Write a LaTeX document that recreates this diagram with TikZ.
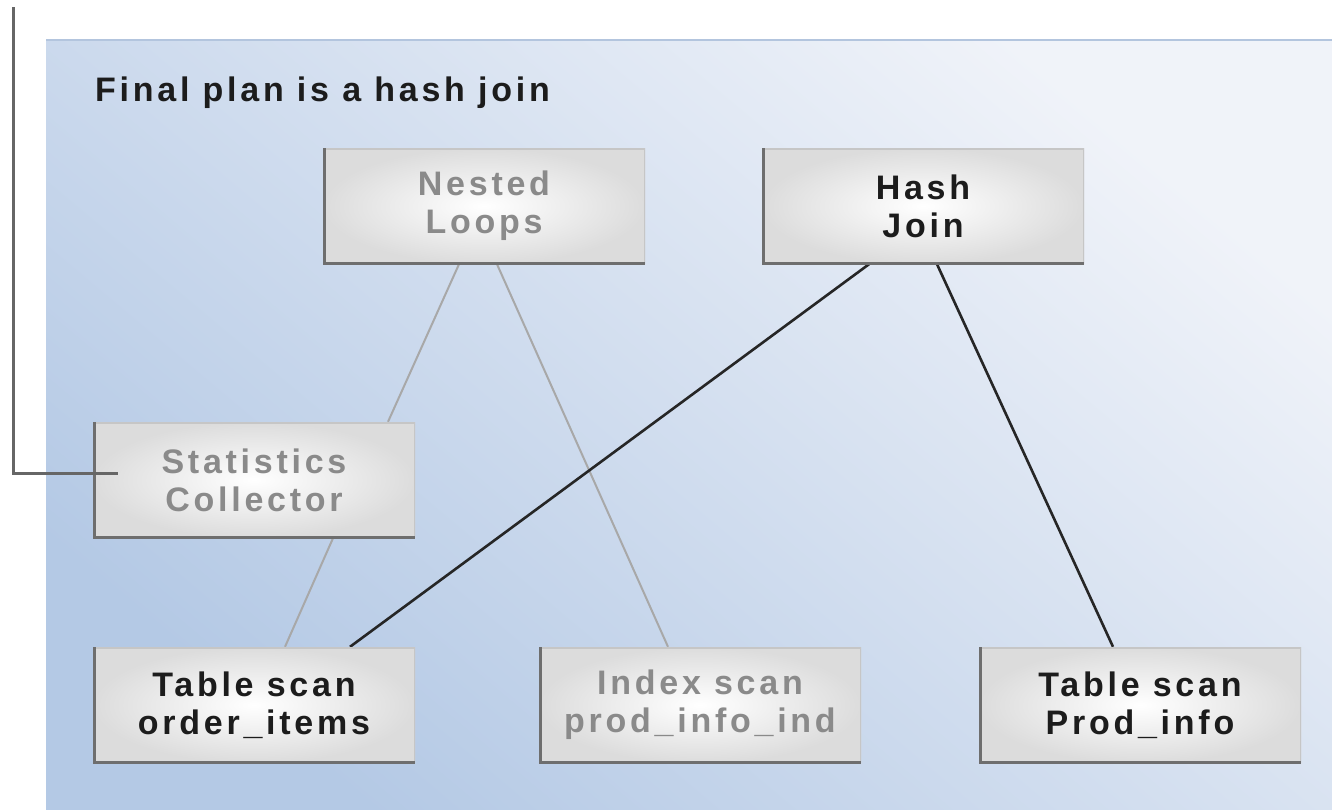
\documentclass[tikz,border=0pt]{standalone}
\usepackage{fontspec}
\usetikzlibrary{backgrounds,calc}
\newfontfamily\diagfont{Liberation Sans}[LetterSpace=11]

\definecolor{bgdark}{HTML}{B4C9E5}
\definecolor{bglight}{HTML}{F0F3F9}
\definecolor{bgedge}{HTML}{B3C5DE}
\definecolor{boxouter}{HTML}{DCDCDC}
\definecolor{bevdark}{HTML}{6E6E6E}
\definecolor{bevlight}{HTML}{C6C6C6}
\definecolor{txtdark}{HTML}{1C1C1C}
\definecolor{txtgray}{HTML}{8A8A8A}
\definecolor{lnkgray}{HTML}{A8A8A8}
\definecolor{lnkdark}{HTML}{262626}
\definecolor{leader}{HTML}{666666}

\tikzset{
  opbox/.style={
    rectangle, minimum width=322pt, minimum height=116pt, inner sep=0pt,
    inner color=white, outer color=boxouter, align=center,
    font={\diagfont\bfseries\fontsize{34}{38}\selectfont},
    path picture={
      \draw[line width=3pt, bevlight]
        (path picture bounding box.south east) -- (path picture bounding box.north east)
        -- (path picture bounding box.north west);
      \draw[line width=5pt, bevdark]
        (path picture bounding box.north west) -- (path picture bounding box.south west)
        -- (path picture bounding box.south east);
    }},
  active/.style={opbox, text=txtdark},
  inactive/.style={opbox, text=txtgray},
  faint/.style={draw=lnkgray, line width=2pt},
  chosen/.style={draw=lnkdark, line width=2.6pt},
}

\begin{document}
\begin{tikzpicture}[x=1pt, y=-1pt]
  \useasboundingbox (0,0) rectangle (1332,809);

  % plan operators
  \node[inactive] (nested) at (484,206) {Nested\\Loops};
  \node[active]   (hash)   at (923,206) {Hash\\Join};
  \node[inactive] (stats)  at (254,480) {Statistics\\Collector};
  \node[active]   (scanoi) at (254,705) {Table scan\\order\_items};
  \node[inactive] (iscan)  at (700,705) {Index scan\\prod\_info\_ind};
  \node[active]   (scanpi) at (1140,705) {Table scan\\Prod\_info};

  % heading
  \node[anchor=base west, inner sep=0pt, text=txtdark,
        font={\diagfont\bfseries\fontsize{34}{38}\selectfont}]
        (title) at (95,101) {Final plan is a hash join};

  \begin{scope}[on background layer]
    % panel with its gradient
    \shade[bottom color=bgdark, top color=bglight, shading angle=-40]
      (46,40) rectangle (1332,809);
    \draw[bgedge, line width=2pt] (46,40) -- (1332,40);

    % plan edges
    \draw[faint]  ([xshift=-25pt]nested.south) -- ([xshift=134pt]stats.north);
    \draw[faint]  ([xshift=13pt]nested.south)  -- ([xshift=-32pt]iscan.north);
    \draw[faint]  ([xshift=79pt]stats.south)   -- ([xshift=31pt]scanoi.north);
    \draw[chosen] ([xshift=-54pt]hash.south)   -- ([xshift=96pt]scanoi.north);
    \draw[chosen] ([xshift=14pt]hash.south)    -- ([xshift=-27pt]scanpi.north);
  \end{scope}

  % leader into the statistics collector
  \coordinate (leadtop) at (13,7);
  \coordinate (leadend) at ($(stats.west)+(25,-7)$);
  \draw[leader, line width=3pt] (leadtop) |- (leadend);
\end{tikzpicture}
\end{document}
